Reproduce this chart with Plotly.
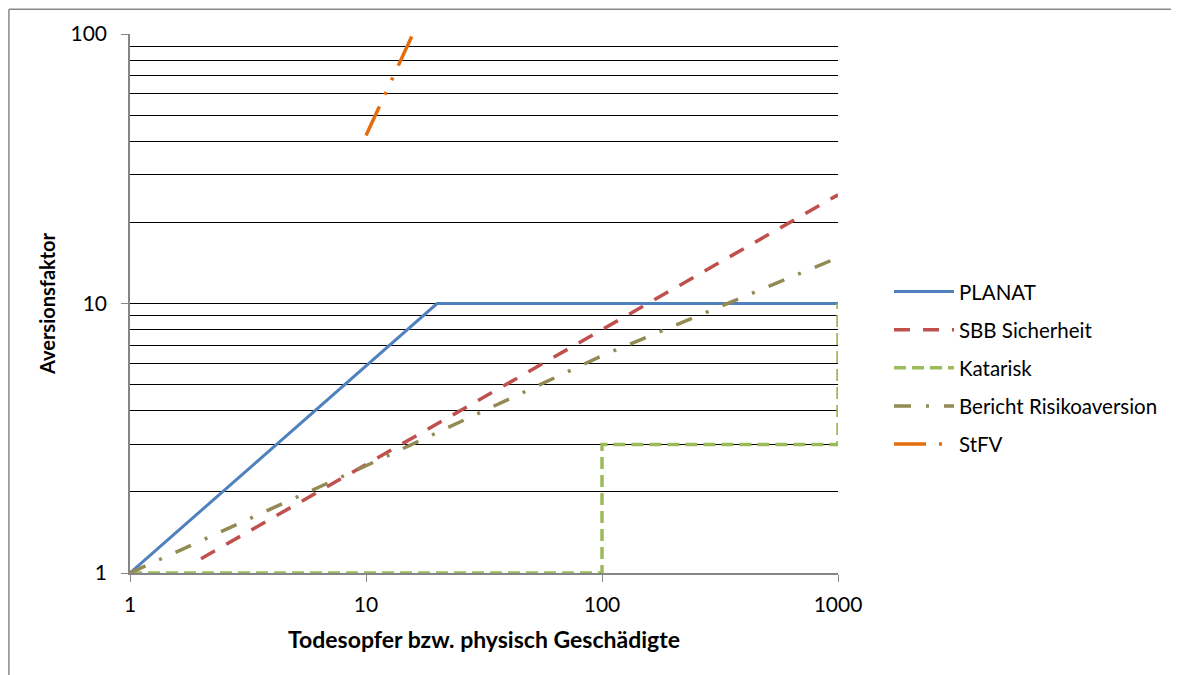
import plotly.graph_objects as go

# Data
planat_x = [1, 20, 1000]
planat_y = [1, 10, 10]

sbb_x = [2, 1000]
sbb_y = [1.13, 25.3]

katarisk_x = [1, 100, 100, 1000, 1000]
katarisk_y = [1, 1, 3, 3, 10]

bericht_x = [1, 10, 100, 1000]
bericht_y = [1, 2.5, 6.4, 14.8]

stfv_x = [10, 15.8]
stfv_y = [42, 100]

x_ticks = [1, 10, 100, 1000]
y_ticks = [1, 10, 100]
y_minor = [2, 3, 4, 5, 6, 7, 8, 9, 20, 30, 40, 50, 60, 70, 80, 90]

FONT = "Lato"

fig = go.Figure()
fig.add_trace(go.Scatter(x=planat_x, y=planat_y, mode="lines", name="PLANAT",
                         legendgroup="a",
                         line=dict(color="#4F81BD", width=3)))
fig.add_trace(go.Scatter(x=sbb_x, y=sbb_y, mode="lines", name="SBB Sicherheit",
                         legendgroup="b",
                         line=dict(color="#C0504D", width=3.5, dash="16px,13px")))
fig.add_trace(go.Scatter(x=katarisk_x, y=katarisk_y, mode="lines", name="Katarisk",
                         legendgroup="c",
                         line=dict(color="#9BBB59", width=3.5, dash="12px,6px")))
fig.add_trace(go.Scatter(x=bericht_x, y=bericht_y, mode="lines", name="Bericht Risikoaversion",
                         legendgroup="d",
                         line=dict(color="#948A54", width=3.5, dash="17px,15px,3px,15px")))
fig.add_trace(go.Scatter(x=stfv_x, y=stfv_y, mode="lines", name="StFV",
                         legendgroup="e",
                         line=dict(color="#E46C0A", width=3.5, dash="32px,13px,3px,13px,3px,13px")))

fig.update_xaxes(type="log", range=[0, 3], tickvals=x_ticks, ticktext=[str(v) for v in x_ticks],
                 showgrid=False, zeroline=False, showline=True, linecolor="#868686", linewidth=1.5,
                 ticks="outside", ticklen=7, tickcolor="#868686", ticklabelstandoff=5,
                 tickfont=dict(family=FONT, size=21, color="black"),
                 title=dict(text="<b>Todesopfer bzw. physisch Geschädigte</b>",
                            font=dict(family=FONT, size=23, color="black"), standoff=17))
fig.update_yaxes(type="log", range=[0, 2], tickvals=y_ticks, ticktext=[str(v) for v in y_ticks],
                 showgrid=True, gridcolor="black", gridwidth=1,
                 zeroline=False, showline=True, linecolor="#868686", linewidth=1.5,
                 ticks="outside", ticklen=7, tickcolor="#868686", ticklabelstandoff=10,
                 tickfont=dict(family=FONT, size=21, color="black"),
                 minor=dict(tickvals=y_minor, showgrid=True, gridcolor="black", gridwidth=1, ticks=""),
                 title=dict(text="<b>Aversionsfaktor</b>",
                            font=dict(family=FONT, size=20, color="black"), standoff=10))

fig.update_layout(
    width=1179, height=675,
    margin=dict(l=122, r=349, t=23, b=110),
    paper_bgcolor="white", plot_bgcolor="white",
    font=dict(family=FONT, color="black"),
    legend=dict(x=1.072, y=0.38, xanchor="left", yanchor="middle",
                font=dict(family=FONT, size=20.5, color="black"),
                tracegroupgap=8.5, itemwidth=60, bgcolor="rgba(0,0,0,0)"),
    shapes=[
        dict(type="line", xref="paper", yref="paper", x0=-0.171, x1=1.6, y0=1.046, y1=1.046,
             line=dict(color="#888888", width=1.5)),
        dict(type="line", xref="paper", yref="paper", x0=-0.171, x1=-0.171, y0=1.046, y1=-0.3,
             line=dict(color="#888888", width=1.5)),
    ],
)

fig.write_html("out.html")
